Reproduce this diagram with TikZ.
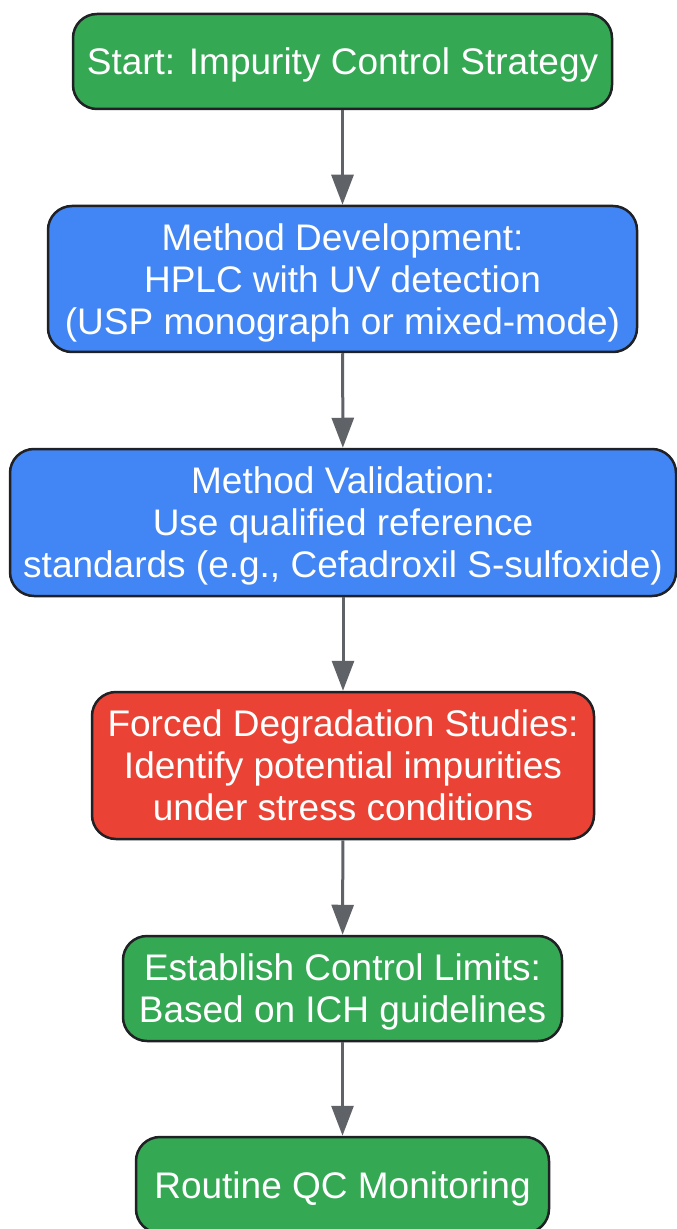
\documentclass[tikz,border=0pt]{standalone}
\usepackage{fontspec}
\setmainfont{Liberation Sans}
\usetikzlibrary{arrows.meta,shapes}

\definecolor{qcgreen}{HTML}{34A853}
\definecolor{qcblue}{HTML}{4285F4}
\definecolor{qcred}{HTML}{EA4335}
\definecolor{qcedge}{HTML}{202124}
\definecolor{qcarrow}{HTML}{5F6368}

\begin{document}
\begin{tikzpicture}[x=0.5pt,y=-0.5pt,
	flow node/.style={rectangle,rounded corners=12pt,draw=qcedge,line width=1.25pt,
		text=white,align=center,inner sep=0pt,text depth=0pt,font=\fontsize{18.5}{21}\selectfont},
	go node/.style={flow node,fill=qcgreen},
	work node/.style={flow node,fill=qcblue},
	stress node/.style={flow node,fill=qcred},
	flow arrow/.style={-{Triangle[length=15pt,width=11pt]},draw=qcarrow,fill=qcarrow,line width=1.5pt}
]

	\useasboundingbox (0,0) rectangle (676,1229);

	\node[go node,minimum width=269.5pt,minimum height=47.5pt] at (342.5,61.5) (start)
		{Start: Impurity Control Strategy};
	\node[work node,minimum width=294.5pt,minimum height=73pt] at (342.5,279) (dev)
		{Method Development:\\HPLC with UV detection\\(USP monograph or mixed-mode)};
	\node[work node,minimum width=333pt,minimum height=73.5pt] at (343,522.5) (val)
		{Method Validation:\\Use qualified reference\\standards (e.g., Cefadroxil S-sulfoxide)};
	\node[stress node,minimum width=251pt,minimum height=73.5pt] at (343,765.5) (deg)
		{Forced Degradation Studies:\\Identify potential impurities\\under stress conditions};
	\node[go node,minimum width=219.5pt,minimum height=52.5pt] at (342.5,988.5) (lim)
		{Establish Control Limits:\\Based on ICH guidelines};
	\node[go node,minimum width=206.5pt,minimum height=48pt] at (342.5,1185) (qc)
		{Routine QC Monitoring};

	\foreach \a/\b in {start/dev,dev/val,val/deg,deg/lim,lim/qc} {
		\draw[flow arrow] (\a) -- (\b);
	}
\end{tikzpicture}
\end{document}
